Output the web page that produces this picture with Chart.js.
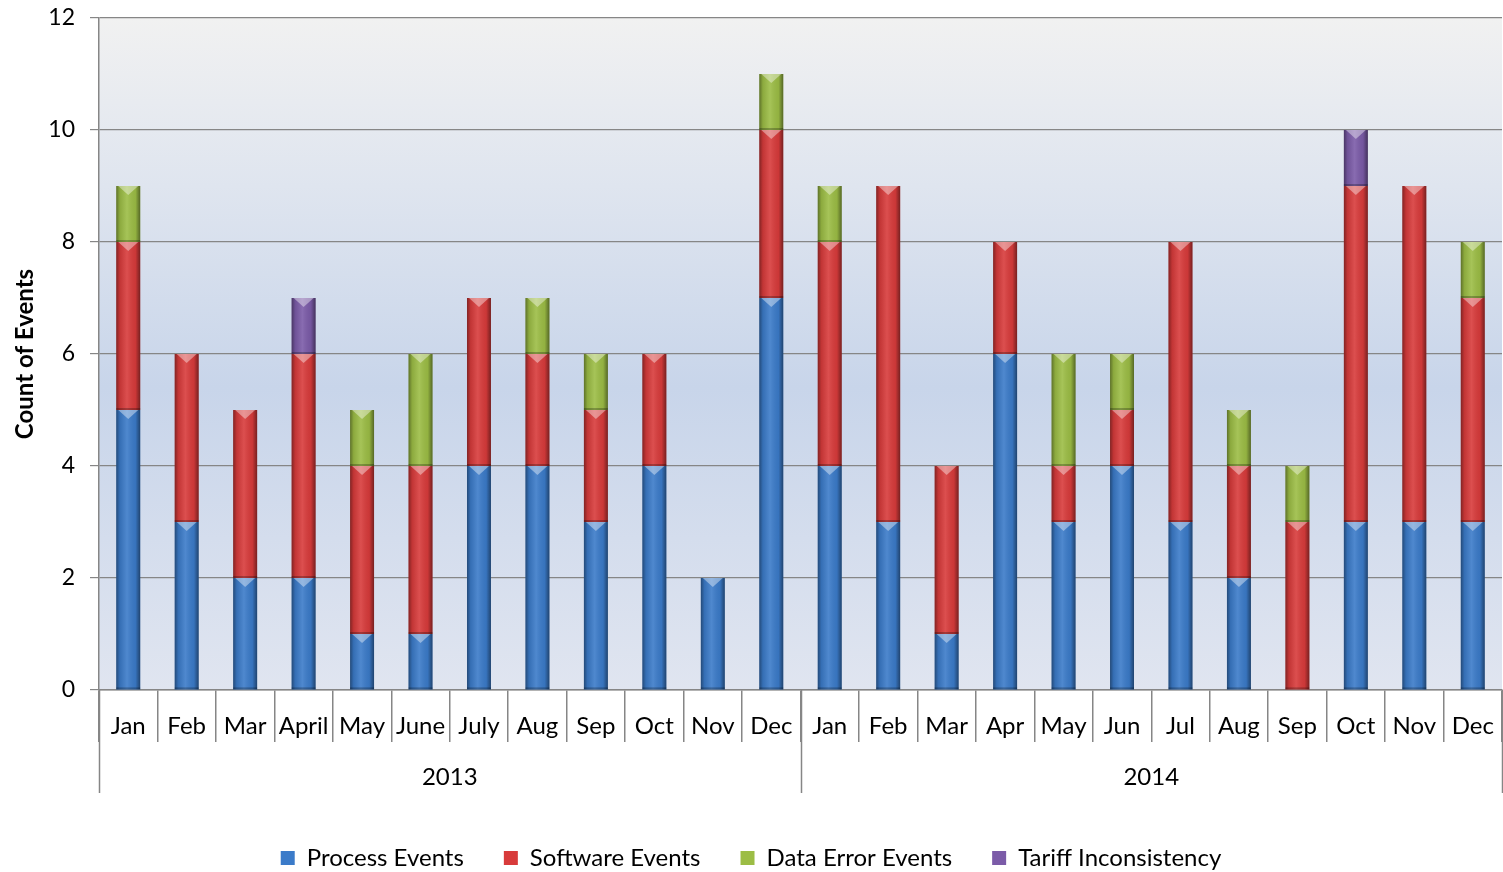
<!DOCTYPE html>
<html><head><meta charset="utf-8">
<script src="https://cdn.jsdelivr.net/npm/chart.js@4"></script>
<style>html,body{margin:0;padding:0;background:#fff}#wrap{width:1503px;height:872px;position:relative}</style>
</head><body><div id="wrap"><canvas id="c"></canvas></div>
<script>
const months = ['Jan','Feb','Mar','April','May','June','July','Aug','Sep','Oct','Nov','Dec','Jan','Feb','Mar','Apr','May','Jun','Jul','Aug','Sep','Oct','Nov','Dec'];
const years = ['2013','2014'];
const processEvents       = [5,3,2,2,1,1,4,4,3,4,2,7, 4,3,1,6,3,4,3,2,0,3,3,3];
const softwareEvents      = [3,3,3,4,3,3,3,2,2,2,0,3, 4,6,3,2,1,1,5,2,3,6,6,4];
const dataErrorEvents     = [1,0,0,0,1,2,0,1,1,0,0,1, 1,0,0,0,2,1,0,1,1,0,0,1];
const tariffInconsistency = [0,0,0,1,0,0,0,0,0,0,0,0, 0,0,0,0,0,0,0,0,0,1,0,0];
const yMin = 0, yMax = 12, yStep = 2;

const FONT = 'Lato';
const AXIS = '#868686';

const bgPlugin = {
  id: 'bg',
  beforeDraw(chart) {
    const {ctx, chartArea: a} = chart;
    const g = ctx.createLinearGradient(0, a.top, 0, a.bottom);
    g.addColorStop(0, '#f1f1f1');
    g.addColorStop(0.25, '#dfe5ef');
    g.addColorStop(0.55, '#c8d5ea');
    g.addColorStop(1, '#e0e5f0');
    ctx.save();
    ctx.fillStyle = g;
    ctx.fillRect(a.left, a.top, a.right - a.left, a.bottom - a.top);
    ctx.restore();
  }
};

const bevelPlugin = {
  id: 'bevel',
  afterDatasetsDraw(chart) {
    const ctx = chart.ctx;
    chart.getSortedVisibleDatasetMetas().forEach(meta => {
      meta.data.forEach(el => {
        const p = el.getProps(['x', 'y', 'base', 'width'], true);
        const top = Math.min(p.y, p.base), bot = Math.max(p.y, p.base);
        const h = bot - top;
        if (h < 1) return;
        const l = p.x - p.width / 2, r = p.x + p.width / 2;
        ctx.save();
        const g = ctx.createLinearGradient(l, 0, r, 0);
        g.addColorStop(0, 'rgba(0,0,0,0.40)');
        g.addColorStop(0.15, 'rgba(0,0,0,0.10)');
        g.addColorStop(0.45, 'rgba(255,255,255,0.10)');
        g.addColorStop(0.8, 'rgba(0,0,0,0.06)');
        g.addColorStop(1, 'rgba(0,0,0,0.45)');
        ctx.fillStyle = g;
        ctx.fillRect(l, top, p.width, h);
        ctx.fillStyle = 'rgba(255,255,255,0.40)';
        ctx.beginPath();
        ctx.moveTo(l + 2, top);
        ctx.lineTo(r - 2, top);
        ctx.lineTo(p.x, top + Math.min(9, h * 0.5));
        ctx.closePath();
        ctx.fill();
        ctx.fillStyle = 'rgba(0,0,0,0.25)';
        ctx.fillRect(l, bot - 2, p.width, 2);
        ctx.restore();
      });
    });
  }
};

const yearSepPlugin = {
  id: 'yearSep',
  afterDraw(chart) {
    const {ctx, chartArea: a} = chart;
    const xs = chart.scales.x;
    const mid = (xs.getPixelForValue(11) + xs.getPixelForValue(12)) / 2;
    ctx.save();
    ctx.strokeStyle = AXIS;
    ctx.lineWidth = 1.5;
    [a.left, mid, a.right].forEach(x => {
      ctx.beginPath();
      ctx.moveTo(Math.round(x) + 0.5, a.bottom);
      ctx.lineTo(Math.round(x) + 0.5, 793);
      ctx.stroke();
    });
    ctx.restore();
  }
};

new Chart(document.getElementById('c'), {
  type: 'bar',
  data: {
    labels: months,
    datasets: [
      {label: 'Process Events', data: processEvents, backgroundColor: '#3b7bc9', borderWidth: 0},
      {label: 'Software Events', data: softwareEvents, backgroundColor: '#d83b3b', borderWidth: 0},
      {label: 'Data Error Events', data: dataErrorEvents, backgroundColor: '#9cbd45', borderWidth: 0},
      {label: 'Tariff Inconsistency', data: tariffInconsistency, backgroundColor: '#7b5ba8', borderWidth: 0}
    ]
  },
  options: {
    responsive: true,
    maintainAspectRatio: false,
    animation: false,
    devicePixelRatio: 1,
    categoryPercentage: 1,
    barPercentage: 0.41,
    layout: {padding: {top: 18, right: 1, bottom: -8, left: 0}},
    plugins: {
      tooltip: {enabled: false},
      legend: {
        position: 'bottom',
        labels: {
          font: {family: FONT, size: 24},
          color: '#000',
          boxWidth: 14,
          boxHeight: 14,
          padding: 40
        }
      }
    },
    scales: {
      x: {
        stacked: true,
        weight: 0,
        offset: true,
        grid: {display: true, drawOnChartArea: false, drawTicks: true, tickLength: 52, offset: true, color: AXIS, lineWidth: 1.5},
        border: {display: true, color: AXIS, width: 1.5},
        ticks: {font: {family: FONT, size: 24}, color: '#000', padding: -30, maxRotation: 0, autoSkip: false},
        afterFit: s => { s.height = 52; }
      },
      x2: {
        type: 'category',
        labels: years,
        position: 'bottom',
        weight: 1,
        offset: true,
        grid: {display: false, drawTicks: false},
        border: {display: false},
        ticks: {font: {family: FONT, size: 24}, color: '#000', padding: 21, maxRotation: 0, autoSkip: false},
        afterFit: s => { s.height = 64; }
      },
      y: {
        stacked: true,
        min: yMin,
        max: yMax,
        ticks: {stepSize: yStep, font: {family: FONT, size: 23, lineHeight: 0.2}, color: '#000', padding: 15},
        grid: {color: AXIS, tickLength: 9, drawTicks: true, lineWidth: 1.2},
        border: {color: AXIS, width: 1.5},
        title: {display: true, text: 'Count of Events', font: {family: FONT, size: 24, weight: 'bold'}, color: '#000', padding: {top: 11, bottom: 0}},
        afterFit: s => { s.width = 99; }
      }
    }
  },
  plugins: [bgPlugin, bevelPlugin, yearSepPlugin]
});
</script>
</body></html>
